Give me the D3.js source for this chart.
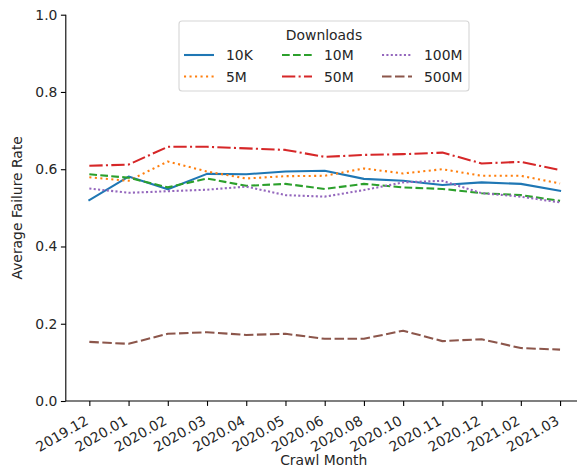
<!DOCTYPE html>
<html>
<head>
<meta charset="utf-8">
<script src="https://cdn.jsdelivr.net/npm/d3@7"></script>
<style>
  html, body { margin: 0; padding: 0; background: #fff; }
  svg { display: block; font-family: "DejaVu Sans", sans-serif; }
</style>
</head>
<body>
<svg id="chart" width="577" height="471"></svg>
<script>
// Crawl months on the x axis
const months = ["2019.12", "2020.01", "2020.02", "2020.03", "2020.04", "2020.05", "2020.06",
                "2020.08", "2020.10", "2020.11", "2020.12", "2021.02", "2021.03"];

// Average failure rate per download bucket
const rate10K  = [0.520, 0.581, 0.548, 0.588, 0.587, 0.594, 0.596, 0.575, 0.570, 0.559, 0.566, 0.562, 0.544];
const rate5M   = [0.579, 0.570, 0.620, 0.594, 0.576, 0.582, 0.583, 0.602, 0.589, 0.600, 0.583, 0.583, 0.563];
const rate10M  = [0.587, 0.578, 0.553, 0.576, 0.557, 0.562, 0.549, 0.562, 0.553, 0.549, 0.538, 0.533, 0.518];
const rate50M  = [0.609, 0.612, 0.658, 0.658, 0.654, 0.650, 0.632, 0.637, 0.639, 0.643, 0.615, 0.619, 0.598];
const rate100M = [0.550, 0.539, 0.543, 0.547, 0.555, 0.533, 0.529, 0.546, 0.566, 0.570, 0.538, 0.529, 0.514];
const rate500M = [0.153, 0.148, 0.174, 0.178, 0.171, 0.174, 0.161, 0.161, 0.182, 0.155, 0.160, 0.137, 0.133];

const seriesNames = ["10K", "5M", "10M", "50M", "100M", "500M"];
const seriesValues = [rate10K, rate5M, rate10M, rate50M, rate100M, rate500M];
const seriesColors = ["#1f77b4", "#ff7f0e", "#2ca02c", "#d62728", "#9467bd", "#8c564b"];
const seriesDashes = [null, "2.08,3.43", "7.7,3.3", "13.3,3.3,2.08,3.3", "2.08,2.3", "9.5,3.5"];

const yTicks = [0, 0.2, 0.4, 0.6, 0.8, 1.0];

const svg = d3.select("#chart");
const plot = { left: 65.8, right: 583.6, top: 14.7, bottom: 401 };
const fontSize = 13.9;

const x = d3.scalePoint().domain(months).range([plot.left, plot.right]).padding(0.6);
const y = d3.scaleLinear().domain([0, 1]).range([plot.bottom, plot.top]);

// Lines
const line = d3.line().x((d, i) => x(months[i])).y(d => y(d));
seriesValues.forEach((vals, k) => {
  svg.append("path")
    .datum(vals)
    .attr("d", line)
    .attr("fill", "none")
    .attr("stroke", seriesColors[k])
    .attr("stroke-width", 2.08)
    .attr("stroke-linejoin", "round")
    .attr("stroke-linecap", seriesDashes[k] ? "butt" : "square")
    .attr("stroke-dasharray", seriesDashes[k]);
});

// Y axis
const yAxis = svg.append("g")
  .attr("transform", `translate(${plot.left},0)`)
  .call(d3.axisLeft(y).tickValues(yTicks).tickFormat(d3.format(".1f")).tickSize(4.9).tickPadding(3.5));
yAxis.select(".domain").attr("stroke", "#000").attr("stroke-width", 1.1).attr("d", `M0,${plot.bottom}V${plot.top}`);
yAxis.selectAll(".tick line").attr("stroke", "#000").attr("stroke-width", 1.1);
yAxis.selectAll(".tick text").attr("font-size", fontSize).attr("font-family", "DejaVu Sans").attr("fill", "#262626");

// X axis
const xAxis = svg.append("g")
  .attr("transform", `translate(0,${plot.bottom})`)
  .call(d3.axisBottom(x).tickSize(4.9).tickPadding(3.5));
xAxis.select(".domain").attr("stroke", "#000").attr("stroke-width", 1.1).attr("d", `M${plot.left},0H${plot.right}`);
xAxis.selectAll(".tick line").attr("stroke", "#000").attr("stroke-width", 1.1);
xAxis.selectAll(".tick text")
  .attr("font-size", fontSize)
  .attr("font-family", "DejaVu Sans")
  .attr("fill", "#262626")
  .attr("text-anchor", "end")
  .attr("dy", null)
  .attr("y", null)
  .attr("transform", "translate(-0.5,22.5) rotate(-30)");

// Axis titles
svg.append("text")
  .attr("x", (plot.left + plot.right) / 2 - 1)
  .attr("y", 465)
  .attr("text-anchor", "middle")
  .attr("font-size", fontSize)
  .attr("fill", "#262626")
  .text("Crawl Month");

svg.append("text")
  .attr("transform", `translate(22,${(plot.top + plot.bottom) / 2}) rotate(-90)`)
  .attr("text-anchor", "middle")
  .attr("font-size", fontSize)
  .attr("fill", "#262626")
  .text("Average Failure Rate");

// Legend
const legend = svg.append("g");
legend.append("rect")
  .attr("x", 179).attr("y", 21).attr("width", 290).attr("height", 70)
  .attr("rx", 3).attr("fill", "#fff").attr("fill-opacity", 0.8)
  .attr("stroke", "#d6d6d6").attr("stroke-width", 1.1);
legend.append("text")
  .attr("x", 324).attr("y", 40)
  .attr("text-anchor", "middle")
  .attr("font-size", fontSize)
  .attr("fill", "#262626")
  .text("Downloads");

const colX = [184, 282, 382];
const rowY = [55, 76.5];
seriesNames.forEach((name, k) => {
  const cx = colX[Math.floor(k / 2)];
  const cy = rowY[k % 2];
  legend.append("line")
    .attr("x1", cx).attr("x2", cx + 30).attr("y1", cy).attr("y2", cy)
    .attr("stroke", seriesColors[k])
    .attr("stroke-width", 2.08)
    .attr("stroke-linecap", "butt")
    .attr("stroke-dasharray", seriesDashes[k]);
  legend.append("text")
    .attr("x", cx + 42).attr("y", cy + 5)
    .attr("font-size", fontSize)
    .attr("fill", "#262626")
    .text(name);
});
</script>
</body>
</html>
